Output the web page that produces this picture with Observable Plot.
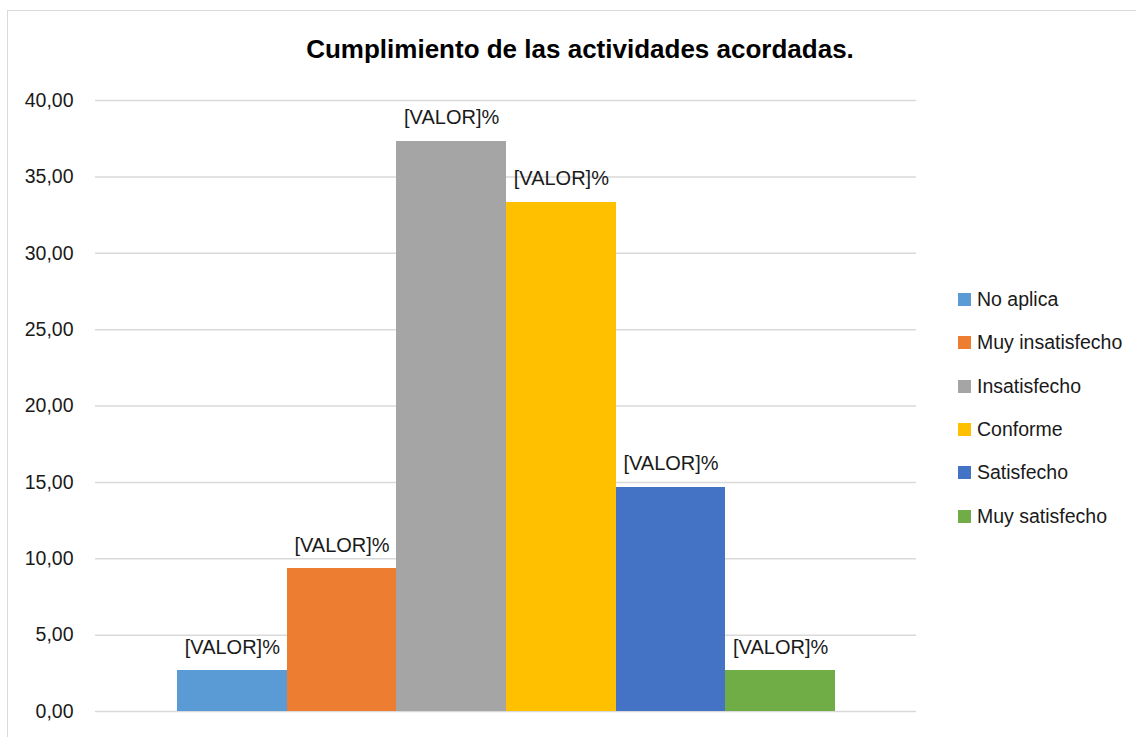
<!DOCTYPE html>
<html>
<head>
<meta charset="utf-8">
<script src="https://cdn.jsdelivr.net/npm/d3@7"></script>
<script src="https://cdn.jsdelivr.net/npm/@observablehq/plot@0.6"></script>
<style>
  html, body { margin: 0; padding: 0; background: #fff; overflow: hidden; }
  #wrap { position: relative; width: 1136px; height: 737px; overflow: hidden; font-family: "Liberation Sans", Arial, sans-serif; }
  #frame { position: absolute; left: 7px; top: 10px; width: 1300px; height: 900px; border: 1.5px solid #d9d9d9; box-sizing: border-box; }
  #title { position: absolute; left: 0; width: 1160px; top: 34px; text-align: center; font-size: 26px; font-weight: bold; color: #000; }
  #chart { position: absolute; left: 0; top: 0; }
  #legend { position: absolute; left: 958px; top: 278px; }
  .item { display: flex; align-items: center; height: 43.3px; font-size: 19.5px; color: #1a1a1a; }
  .sw { width: 13px; height: 13px; margin-right: 6px; }
</style>
</head>
<body>
<div id="wrap">
  <div id="frame"></div>
  <div id="chart"></div>
  <div id="title">Cumplimiento de las actividades acordadas.</div>
  <div id="legend"></div>
</div>
<script>
const categories = ["No aplica", "Muy insatisfecho", "Insatisfecho", "Conforme", "Satisfecho", "Muy satisfecho"];
const values = [2.67, 9.33, 37.33, 33.33, 14.67, 2.67];
const colors = ["#5b9bd5", "#ed7d31", "#a5a5a5", "#ffc000", "#4472c4", "#70ad47"];
const labelText = "[VALOR]%";
const yTicks = [0, 5, 10, 15, 20, 25, 30, 35, 40];

const data = categories.map((c, i) => ({cat: c, value: values[i]}));

const chart = Plot.plot({
  width: 1136,
  height: 737,
  marginTop: 100,
  marginBottom: 26,
  marginLeft: 95,
  marginRight: 220,
  style: {fontFamily: "'Liberation Sans', Arial, sans-serif", fontSize: "19.5px", background: "transparent", color: "#1a1a1a"},
  x: {domain: categories, axis: null, padding: 0, round: false, insetLeft: 82, insetRight: 81},
  y: {domain: [0, 40], ticks: yTicks, tickSize: 0, tickPadding: 22, label: null,
      tickFormat: d => d.toFixed(2).replace(".", ",")},
  color: {domain: categories, range: colors},
  marks: [
    Plot.gridY(yTicks, {stroke: "#d9d9d9", strokeOpacity: 1, strokeWidth: 1.5}),
    Plot.barY(data, {x: "cat", y: "value", fill: "cat", inset: 0, shapeRendering: "crispEdges"}),
    Plot.text(data, {x: "cat", y: "value", text: () => labelText, lineAnchor: "bottom", dy: -17, fontSize: 20, fill: "#1a1a1a"})
  ]
});
document.getElementById("chart").appendChild(chart);

const legend = document.getElementById("legend");
categories.forEach((c, i) => {
  const row = document.createElement("div");
  row.className = "item";
  const sw = document.createElement("div");
  sw.className = "sw";
  sw.style.background = colors[i];
  const t = document.createElement("span");
  t.textContent = c;
  row.appendChild(sw);
  row.appendChild(t);
  legend.appendChild(row);
});
</script>
</body>
</html>
